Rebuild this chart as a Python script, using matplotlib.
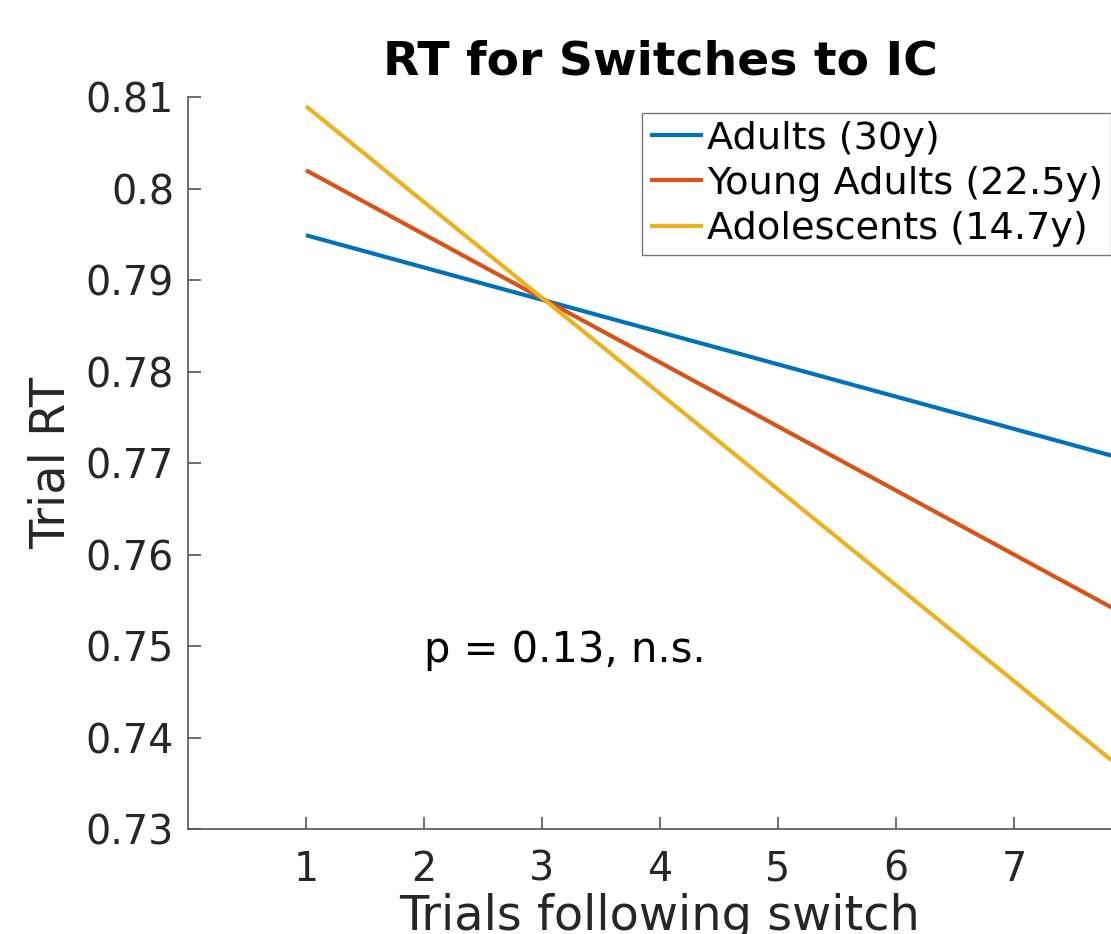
#!/usr/bin/env python3
"""
Linear fits of trial RT over trials following a switch to IC, by age group.
"""

import matplotlib
matplotlib.use("Agg")
import matplotlib.pyplot as plt
from matplotlib.ticker import FormatStrFormatter

# fitted lines, evaluated at the first and last trial
trials = [1, 8]
adults = [0.7949, 0.7702]
young_adults = [0.8020, 0.7530]
adolescents = [0.8090, 0.7357]

labels = ["Adults (30y)", "Young Adults (22.5y)", "Adolescents (14.7y)"]
colors = ["#0072BD", "#D95319", "#EDB120"]

x_ticks = [1, 2, 3, 4, 5, 6, 7]
y_ticks = [0.73, 0.74, 0.75, 0.76, 0.77, 0.78, 0.79, 0.80, 0.81]


def main():
    fig = plt.figure(figsize=(11.11, 9.34), dpi=100)
    ax = fig.add_axes([0.1692, 0.1124, 0.8497, 0.7837])

    for vals, lab, col in zip([adults, young_adults, adolescents], labels, colors):
        ax.plot(trials, vals, color=col, linewidth=3, label=lab, solid_capstyle="butt")

    ax.set_xlim(0, 8)
    ax.set_ylim(0.73, 0.81)
    ax.set_xticks(x_ticks)
    ax.set_yticks(y_ticks)
    ax.yaxis.set_major_formatter(FormatStrFormatter("%g"))

    ax.spines["top"].set_visible(False)
    ax.spines["right"].set_visible(False)
    for s in ("left", "bottom"):
        ax.spines[s].set_color("#555555")
        ax.spines[s].set_linewidth(1.2)
    ax.tick_params(direction="in", length=9, width=1.2, color="#555555",
                   labelsize=28.5, labelcolor="#262626")
    ax.tick_params(axis="x", pad=15)
    ax.tick_params(axis="y", pad=10)

    ax.set_xlabel("Trials following switch", fontsize=34.5, color="#262626", labelpad=2)
    ax.set_ylabel("Trial RT", fontsize=34.5, color="#262626", labelpad=8)
    ax.set_title("RT for Switches to IC", fontsize=34, fontweight="bold", pad=16)

    ax.text(2.0, 0.7496, "p = 0.13, n.s.", fontsize=30, va="center", ha="left")

    leg = ax.legend(loc="upper left", bbox_to_anchor=(642 / 1111, 1 - 113 / 934),
                    bbox_transform=fig.transFigure, fontsize=27.5, frameon=True,
                    fancybox=False, handlelength=1.4, handletextpad=0.1,
                    borderaxespad=0, borderpad=0.2, labelspacing=0.24)
    leg.get_frame().set_edgecolor("#555555")
    leg.get_frame().set_linewidth(1.0)

    fig.savefig("out.png", dpi=100)


if __name__ == "__main__":
    main()
